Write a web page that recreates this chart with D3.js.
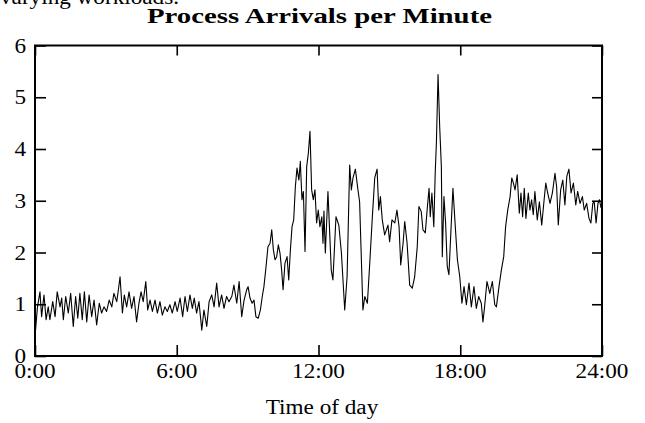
<!DOCTYPE html>
<html><head><meta charset="utf-8">
<script src="https://cdn.jsdelivr.net/npm/d3@7"></script>
<style>body{margin:0;background:#fff}svg{display:block}</style>
</head><body>
<script>
const chartTitle = "Process Arrivals per Minute";
const xTitle = "Time of day";
const topCroppedText = "varying workloads.";
const xTickValues = [0, 6, 12, 18, 24];
const xTickLabels = ["0:00", "6:00", "12:00", "18:00", "24:00"];
const yTickValues = [0, 1, 2, 3, 4, 5, 6];
const yTickLabels = ["0", "1", "2", "3", "4", "5", "6"];

// time of day in hours
const hours = [
0.00,0.10,0.21,0.28,0.38,0.47,0.56,0.63,0.75,0.85,
0.94,1.06,1.13,1.20,1.30,1.41,1.51,1.62,1.72,1.81,
1.90,2.00,2.09,2.19,2.29,2.40,2.50,2.61,2.72,2.82,
2.92,3.03,3.14,3.25,3.34,3.46,3.53,3.60,3.70,3.78,
3.88,3.98,4.09,4.19,4.30,4.40,4.49,4.58,4.69,4.77,
4.87,4.97,5.08,5.18,5.29,5.39,5.50,5.60,5.71,5.81,
5.93,6.02,6.14,6.25,6.35,6.45,6.56,6.66,6.74,6.84,
6.94,7.06,7.15,7.27,7.37,7.48,7.58,7.69,7.79,7.90,
8.00,8.11,8.21,8.33,8.42,8.54,8.64,8.75,8.85,8.96,
9.02,9.10,9.19,9.27,9.35,9.45,9.54,9.62,9.69,9.78,
9.86,9.95,10.02,10.09,10.16,10.23,10.30,10.37,10.44,10.50,
10.58,10.67,10.74,10.81,10.88,10.95,11.02,11.09,11.17,11.23,
11.30,11.36,11.43,11.50,11.57,11.64,11.71,11.78,11.85,11.92,
11.99,12.06,12.14,12.19,
12.23,12.29,12.40,12.54,12.61,12.74,12.86,12.97,13.11,13.21,
13.32,13.39,13.46,13.56,13.67,13.74,13.88,13.96,14.07,14.17,
14.28,14.38,14.48,14.55,14.62,14.70,14.80,14.94,15.01,15.11,
15.23,15.32,15.41,15.48,15.58,15.65,15.75,15.86,15.97,16.07,
16.18,
16.25,16.35,16.42,16.52,16.61,16.68,16.73,16.80,16.88,16.94,
16.99,17.06,17.13,17.20,17.24,17.31,17.38,17.45,17.52,17.60,
17.69,17.79,17.88,17.98,18.07,18.16,18.26,18.37,18.47,18.58,
18.68,18.78,18.89,18.96,19.03,19.13,19.25,19.36,19.46,19.53,
19.64,19.74,19.84,19.92,20.01,20.11,20.18,
20.25,20.32,20.41,20.50,20.57,20.64,20.71,20.78,20.88,20.95,
21.02,21.09,21.16,21.26,21.35,21.45,21.55,21.62,21.70,21.80,
21.90,22.01,22.08,22.15,22.25,22.34,22.43,22.51,22.60,22.69,
22.79,22.89,22.97,23.07,23.17,23.25,23.35,23.45,23.53,23.61,
23.67,23.75,23.83,23.89,23.96
];

// process arrivals per minute
const arrivals = [
0.37,0.93,1.24,0.76,1.18,0.70,0.95,0.70,1.05,0.76,
1.24,0.95,1.12,0.70,1.15,0.83,1.21,0.57,1.15,0.73,
1.21,0.70,1.24,0.66,1.18,0.76,1.08,0.60,1.02,0.83,
0.95,0.86,1.08,0.95,1.21,1.05,1.28,1.53,0.83,1.18,
0.95,1.24,0.92,1.15,0.66,1.02,1.24,1.05,1.44,0.89,
1.08,0.86,1.08,0.83,1.05,0.79,0.95,0.86,0.99,0.83,
1.05,0.86,1.12,0.76,1.15,0.86,1.18,0.92,1.12,0.83,
1.05,0.50,0.89,0.57,1.05,1.18,0.95,1.41,0.95,1.18,
0.92,1.15,1.05,1.15,1.37,1.02,1.44,0.76,1.08,1.28,
1.34,1.12,1.02,1.08,0.76,0.73,0.89,1.15,1.34,1.73,
2.11,2.18,2.44,2.05,1.86,1.92,2.15,1.99,1.66,1.28,
1.79,1.92,1.47,2.05,2.50,2.63,3.27,3.63,3.40,3.76,
3.02,3.18,2.02,3.66,3.92,4.34,3.21,3.02,3.21,2.57,
2.82,2.50,2.69,2.18,
2.80,1.99,3.18,1.66,1.47,2.69,2.53,1.99,0.89,1.53,
3.69,3.21,3.44,3.61,3.21,2.98,0.89,1.15,1.02,1.80,
2.69,3.44,3.61,2.82,3.08,2.63,2.34,2.53,2.21,2.63,
2.57,2.82,2.50,1.76,2.18,2.60,2.18,1.37,1.31,1.53,
2.11,
2.89,2.79,2.44,2.38,2.89,3.24,2.69,3.15,2.50,3.53,
4.11,5.44,4.43,3.66,1.92,3.08,2.57,1.73,1.57,2.37,
3.24,2.50,1.86,1.53,1.02,1.34,0.99,1.41,0.95,1.34,
0.92,1.15,1.02,0.66,0.95,1.44,1.21,1.44,0.99,0.95,
1.34,1.66,1.92,2.50,2.82,3.08,3.44,
3.34,3.21,3.50,2.76,3.15,2.69,3.24,2.66,3.15,2.82,
3.02,2.73,3.18,2.63,2.98,2.53,3.02,3.34,3.15,2.95,
3.15,3.53,3.27,2.53,3.21,3.40,2.92,3.47,3.61,3.15,
3.34,2.92,3.18,2.95,3.08,2.82,2.95,2.66,2.57,2.95,
2.98,2.57,2.95,3.02,2.86
];

const W = 645, H = 423;
const plotLeft = 35, plotRight = 602, plotTop = 45.5, plotBottom = 356;
const fontFam = "'Liberation Serif', 'Times New Roman', serif";
const sx = 1.16;

const svg = d3.select("body").append("svg").attr("width", W).attr("height", H);

const x = d3.scaleLinear().domain([0, 24]).range([plotLeft, plotRight]);
const y = d3.scaleLinear().domain([0, 6]).range([plotBottom, plotTop]);

// cropped text from the page above
svg.append("text").attr("transform", `translate(0,4) scale(${sx},1)`)
  .attr("font-family", fontFam).attr("font-size", 20).attr("fill", "#000")
  .text(topCroppedText);

// title
const t = svg.append("text").attr("font-family", fontFam).attr("font-size", 21)
  .attr("font-weight", "bold").attr("text-anchor", "middle").attr("fill", "#000")
  .text(chartTitle);
const tl = t.node().getComputedTextLength();
t.attr("transform", `translate(319.5,23) scale(${345 / tl},1)`);

// data line
const line = d3.line().x((d) => x(d[0])).y((d) => y(d[1]));
svg.append("path").datum(d3.zip(hours, arrivals))
  .attr("fill", "none").attr("stroke", "#000").attr("stroke-width", 1.1)
  .attr("stroke-linejoin", "round").attr("d", line);

// axes with inward ticks on all sides
const tick = 11;
const axStyle = (g) => { g.select(".domain").remove(); g.selectAll("line").attr("stroke", "#000").attr("stroke-width", 1.6); g.selectAll("text").remove(); };
svg.append("g").attr("transform", `translate(0,${plotBottom})`)
  .call(d3.axisBottom(x).tickValues(xTickValues).tickSizeInner(-tick).tickSizeOuter(0)).call(axStyle);
svg.append("g").attr("transform", `translate(0,${plotTop})`)
  .call(d3.axisTop(x).tickValues(xTickValues).tickSizeInner(-tick + 1).tickSizeOuter(0)).call(axStyle);
svg.append("g").attr("transform", `translate(${plotLeft},0)`)
  .call(d3.axisLeft(y).tickValues(yTickValues).tickSizeInner(-tick).tickSizeOuter(0)).call(axStyle);
svg.append("g").attr("transform", `translate(${plotRight},0)`)
  .call(d3.axisRight(y).tickValues(yTickValues).tickSizeInner(-tick + 1).tickSizeOuter(0)).call(axStyle);

// frame
svg.append("rect").attr("x", plotLeft).attr("y", plotTop).attr("width", plotRight - plotLeft).attr("height", plotBottom - plotTop)
  .attr("fill", "none").attr("stroke", "#000").attr("stroke-width", 2);

// y tick labels
svg.append("g").selectAll("text").data(yTickValues).join("text")
  .attr("transform", (d) => `translate(26,${y(d) + 7}) scale(${sx},1)`)
  .attr("text-anchor", "end").attr("font-family", fontFam).attr("font-size", 20).attr("fill", "#000")
  .text((d, i) => yTickLabels[i]);

// x tick labels
svg.append("g").selectAll("text").data(xTickValues).join("text")
  .attr("transform", (d) => `translate(${x(d)},378) scale(${sx},1)`)
  .attr("text-anchor", "middle").attr("font-family", fontFam).attr("font-size", 20).attr("fill", "#000")
  .text((d, i) => xTickLabels[i]);

// x axis title
svg.append("text").attr("transform", `translate(322,414) scale(${sx},1)`)
  .attr("text-anchor", "middle").attr("font-family", fontFam).attr("font-size", 20).attr("fill", "#000")
  .text(xTitle);
</script>
</body></html>
